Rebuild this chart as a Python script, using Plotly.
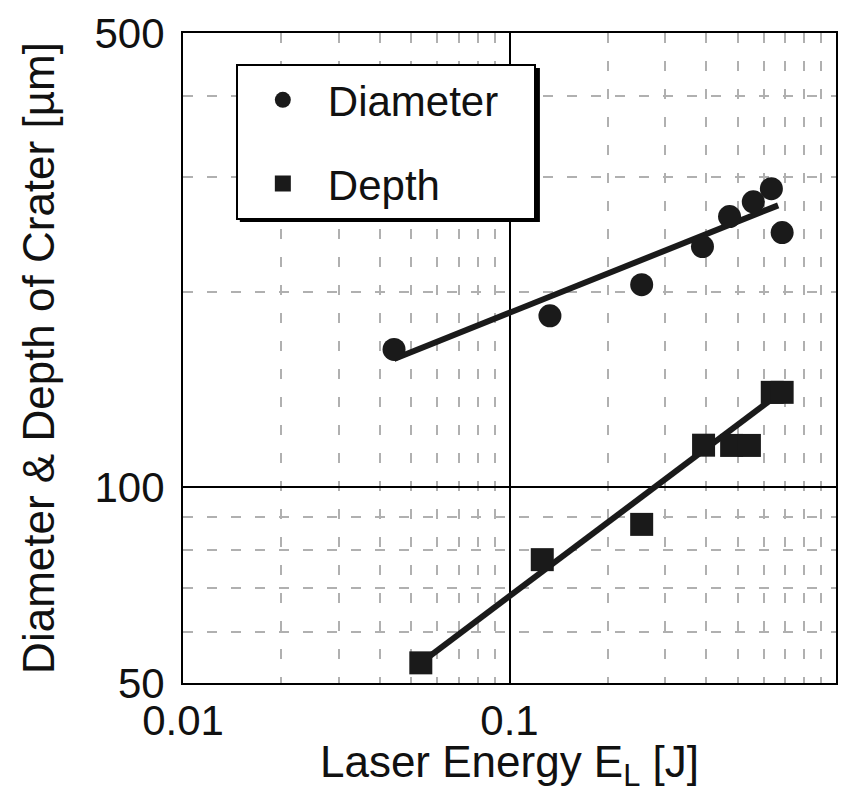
import plotly.graph_objects as go

# Data
diam_x = [0.0443, 0.133, 0.254, 0.390, 0.472, 0.558, 0.634, 0.684]
diam_y = [163, 183.6, 205, 234.6, 261, 275, 288, 246.6]
depth_x = [0.0535, 0.126, 0.254, 0.393, 0.479, 0.543, 0.638, 0.684]
depth_y = [53.7, 77.4, 87.7, 116.1, 116, 116, 140, 140]
diam_fit_x = [0.0443, 0.665]
diam_fit_y = [157.6, 271.5]
depth_fit_x = [0.0535, 0.665]
depth_fit_y = [53.7, 139]

x_ticks = [0.01, 0.1, 1]
x_tick_labels = ["0.01", "0.1", "1"]
y_ticks = [50, 100, 500]
y_tick_labels = ["50", "100", "500"]
x_minor = [0.02, 0.03, 0.04, 0.05, 0.06, 0.07, 0.08, 0.09,
           0.2, 0.3, 0.4, 0.5, 0.6, 0.7, 0.8, 0.9]
y_minor = [60, 70, 80, 90, 200, 300, 400]

FONT = "Liberation Sans, Arial, Helvetica, sans-serif"
FS = 42
FT = 44
NB = "\u00a0"

fig = go.Figure()
fig.add_trace(go.Scatter(x=diam_fit_x, y=diam_fit_y, mode="lines",
                         line=dict(color="#1a1a1a", width=6), showlegend=False,
                         hoverinfo="skip"))
fig.add_trace(go.Scatter(x=depth_fit_x, y=depth_fit_y, mode="lines",
                         line=dict(color="#1a1a1a", width=6), showlegend=False,
                         hoverinfo="skip"))
fig.add_trace(go.Scatter(x=diam_x, y=diam_y, mode="markers",
                         name="Diameter" + NB * 2 + "\u2006",
                         legendgroup="a",
                         marker=dict(symbol="circle", size=23, color="#1a1a1a")))
fig.add_trace(go.Scatter(x=depth_x, y=depth_y, mode="markers", name="Depth",
                         legendgroup="b",
                         marker=dict(symbol="square", size=23, color="#1a1a1a")))

# legend shadow
fig.add_shape(type="rect", xref="paper", yref="paper",
              x0=(240 - 183) / 655, x1=(541 - 183) / 655,
              y0=(683 - 222) / 650, y1=(683 - 68) / 650,
              fillcolor="black", line=dict(width=0), layer="above")

axis_common = dict(
    type="log", showline=True, linecolor="black", linewidth=2, mirror=True,
    ticks="", showgrid=True, gridcolor="black", gridwidth=2,
    tickfont=dict(family=FONT, size=FS, color="#111"),
    zeroline=False,
)

fig.update_xaxes(range=[-2, 0], tickvals=x_ticks, ticktext=x_tick_labels,
                 ticklabelstandoff=0,
                 minor=dict(tickvals=x_minor, showgrid=True, gridcolor="#b0b0b0",
                            gridwidth=1.5, griddash="10px,18px", ticks=""),
                 title=dict(text="Laser Energy E<sub>L</sub> [J]",
                            font=dict(family=FONT, size=FT, color="#111"), standoff=12),
                 **axis_common)
fig.update_yaxes(range=[1.69897, 2.69897], tickvals=y_ticks, ticktext=y_tick_labels,
                 ticklabelstandoff=8,
                 minor=dict(tickvals=y_minor, showgrid=True, gridcolor="#b0b0b0",
                            gridwidth=1.5, griddash="10px,14px", ticks=""),
                 title=dict(text="Diameter & Depth of Crater [µm]",
                            font=dict(family=FONT, size=FT, color="#111"), standoff=26),
                 **axis_common)

fig.update_layout(
    width=841, height=793,
    margin=dict(l=183, r=3, t=33, b=110),
    paper_bgcolor="white", plot_bgcolor="white",
    font=dict(family=FONT, size=FS, color="#111"),
    legend=dict(x=(236 - 183) / 655, y=(683 - 64) / 650, xanchor="left", yanchor="top",
                bgcolor="white", bordercolor="black", borderwidth=2,
                font=dict(family=FONT, size=FS, color="#111"),
                tracegroupgap=26, traceorder="grouped", itemsizing="trace",
                itemwidth=80),
)

fig.write_html("out.html")
